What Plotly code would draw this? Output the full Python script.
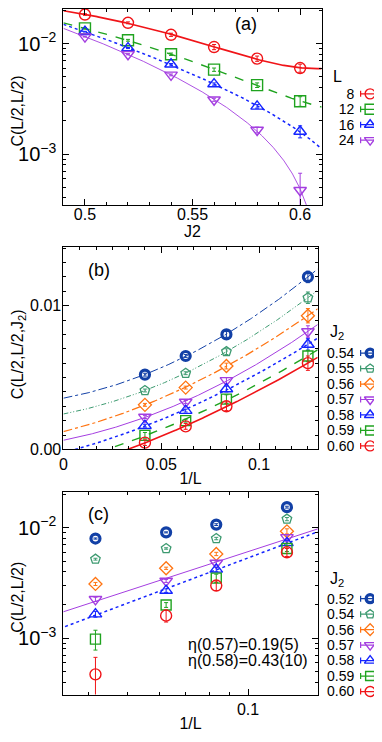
import numpy as np
import plotly.graph_objects as go

# C(L/2,L/2), one list per system size L
J2 = [0.50, 0.52, 0.54, 0.55, 0.56, 0.57, 0.58, 0.59, 0.60]
C_L8 = [0.0183, 0.0154, 0.0120, 0.01055, 0.0093, 0.0082, 0.0073, 0.0065, 0.0060]
C_L12 = [0.0137, 0.0107, 0.0080, 0.0068, 0.0058, 0.0048, 0.0042, 0.0035, 0.0030]
C_L16 = [0.0128, 0.0091, 0.0065, 0.0053, 0.0043, 0.0033, 0.0027, 0.0020, 0.0016]
C_L24 = [0.01155, 0.0080, 0.0052, 0.0041, 0.0031, 0.00225, 0.00165, 0.00098, 0.00047]
ERR_L8 = [0.0003, 0.0003, 0.0004, 0.0004, 0.0005, 0.0004, 0.0004, 0.0004, 0.0005]
ERR_L12 = [0.0002, 0.0002, 0.0002, 0.0002, 0.0002, 0.0002, 0.0002, 0.0003, 0.0003]
ERR_L16 = [0.0001, 0.0001, 0.0001, 0.0001, 0.0001, 0.0001, 0.0001, 0.0001, 0.0002]
ERR_L24 = [0.0001, 0.0001, 0.0001, 0.0001, 0.0001, 0.0001, 0.0001, 0.0002, 0.0002]
L_SIZES = [8, 12, 16, 24]

J2_A = [0.50, 0.52, 0.54, 0.56, 0.58, 0.60]          # panel (a)
J2_B = [0.54, 0.55, 0.56, 0.57, 0.58, 0.59, 0.60]    # panel (b)
J2_C = [0.52, 0.54, 0.56, 0.57, 0.58, 0.59, 0.60]    # panel (c)
J2_FIT_C = [0.57, 0.58]
ETA_TEXT = ["η(0.57)=0.19(5)", "η(0.58)=0.43(10)"]

C = {8: C_L8, 12: C_L12, 16: C_L16, 24: C_L24}
ERR = {8: ERR_L8, 12: ERR_L12, 16: ERR_L16, 24: ERR_L24}

RED, GREEN, BLUE, PURPLE = "#f01418", "#1fa31f", "#1424ff", "#a43ee0"
ORANGE, TEAL, NAVY = "#ff7412", "#3d9a70", "#1240a6"

style_L = {
    8: dict(color=RED, symbol="circle-open", dash="solid", w=1.7),
    12: dict(color=GREEN, symbol="square-open", dash="dash", w=1.4),
    16: dict(color=BLUE, symbol="triangle-up-open", dash="dot", w=1.5),
    24: dict(color=PURPLE, symbol="triangle-down-open", dash="solid", w=0.9),
}
# panels (b) and (c) use the same style sequence, in key order
style_seq = [
    dict(color=NAVY, symbol="circle-open", dash="dashdot", w=1.0, mw=3.2, size=9),
    dict(color=TEAL, symbol="pentagon-open", dash="5px,2px,1px,2px,1px,2px", w=1.0, mw=1.3, size=10),
    dict(color=ORANGE, symbol="diamond-open", dash="dashdot", w=1.2, mw=1.3, size=10),
    dict(color=PURPLE, symbol="triangle-down-open", dash="solid", w=1.0, mw=1.4, size=11),
    dict(color=BLUE, symbol="triangle-up-open", dash="dot", w=1.5, mw=1.4, size=11),
    dict(color=GREEN, symbol="square-open", dash="dash", w=1.4, mw=1.4, size=10),
    dict(color=RED, symbol="circle-open", dash="solid", w=1.6, mw=1.4, size=11),
]

FONT = "Liberation Sans, Arial, sans-serif"
fig = go.Figure()


def key_entry(label, s, xa, ya, mw=1.4, size=11):
    # key sample drawn gnuplot style: label on the left, errorbar sample on the right
    fig.add_trace(go.Scatter(x=[0], y=[label], mode="markers", showlegend=False, hoverinfo="skip",
                             marker=dict(symbol=s["symbol"], size=size - 1, color=s["color"],
                                         line=dict(width=mw, color=s["color"])),
                             error_x=dict(type="data", array=[0.8], color=s["color"], width=3,
                                          thickness=1.2),
                             xaxis=xa, yaxis=ya))


# ---- panel (a): C vs J2, log y
for L in L_SIZES:
    s = style_L[L]
    idx = [J2.index(j) for j in J2_A]
    y = [C[L][i] for i in idx]
    e = [ERR[L][i] for i in idx]
    coef = np.polyfit(J2_A, y, 3)
    xs = np.linspace(0.49, 0.61, 400)
    ys = np.polyval(coef, xs)
    ys = np.where(ys > 0, ys, np.nan)
    fig.add_trace(go.Scatter(x=xs, y=ys, mode="lines", showlegend=False, hoverinfo="skip",
                             line=dict(color=s["color"], dash=s["dash"], width=s["w"]),
                             xaxis="x", yaxis="y"))
    fig.add_trace(go.Scatter(x=J2_A, y=y, mode="markers", name=str(L), showlegend=False,
                             marker=dict(symbol=s["symbol"], size=11, color=s["color"],
                                         line=dict(width=1.4, color=s["color"])),
                             error_y=dict(type="data", array=e, color=s["color"], width=2, thickness=1),
                             xaxis="x", yaxis="y"))
    key_entry(str(L), s, "x4", "y4")

# ---- panel (b): C vs 1/L, linear y, quadratic extrapolation
inv_L = [1 / L for L in L_SIZES]
for k, j in enumerate(J2_B):
    s = style_seq[k]
    i = J2.index(j)
    y = [C[L][i] for L in L_SIZES]
    e = [ERR[L][i] for L in L_SIZES]
    coef = np.polyfit(inv_L, y, 2)
    xs = np.linspace(0, 0.13, 300)
    fig.add_trace(go.Scatter(x=xs, y=np.polyval(coef, xs), mode="lines", showlegend=False,
                             hoverinfo="skip", line=dict(color=s["color"], dash=s["dash"], width=s["w"]),
                             xaxis="x2", yaxis="y2"))
    fig.add_trace(go.Scatter(x=inv_L, y=y, mode="markers", name=f"{j:.2f}", showlegend=False,
                             marker=dict(symbol=s["symbol"], size=s["size"], color=s["color"],
                                         line=dict(width=s["mw"], color=s["color"])),
                             error_y=dict(type="data", array=e, color=s["color"], width=2, thickness=1),
                             xaxis="x2", yaxis="y2"))
    key_entry(f"{j:.2f}", s, "x5", "y5", s["mw"], s["size"])

# ---- panel (c): log-log, power-law fits for 0.57 and 0.58
for j in J2_FIT_C:
    s = style_seq[J2_C.index(j)]
    i = J2.index(j)
    y = [C[L][i] for L in L_SIZES]
    slope, icpt = np.polyfit(np.log10(inv_L), np.log10(y), 1)
    xs = np.logspace(-1.47, -0.81, 50)
    fig.add_trace(go.Scatter(x=xs, y=10 ** (icpt + slope * np.log10(xs)), mode="lines",
                             showlegend=False, hoverinfo="skip",
                             line=dict(color=s["color"], dash=s["dash"], width=s["w"]),
                             xaxis="x3", yaxis="y3"))
for k, j in enumerate(J2_C):
    s = style_seq[k]
    i = J2.index(j)
    y = [C[L][i] for L in L_SIZES]
    e = [ERR[L][i] for L in L_SIZES]
    fig.add_trace(go.Scatter(x=inv_L, y=y, mode="markers", name=f"{j:.2f}", showlegend=False,
                             marker=dict(symbol=s["symbol"], size=s["size"], color=s["color"],
                                         line=dict(width=s["mw"], color=s["color"])),
                             error_y=dict(type="data", array=e, color=s["color"], width=2, thickness=1),
                             xaxis="x3", yaxis="y3"))
    key_entry(f"{j:.2f}", s, "x6", "y6", s["mw"], s["size"])

# the page body keeps its default 8px margin, so lay out in window pixels minus 8
OFF = 8
W, H = 382 - OFF, 742 - OFF
px_x = lambda p: (p - OFF) / W
px_y = lambda p: 1 - (p - OFF) / H

axis_common = dict(showline=True, linecolor="black", linewidth=1, mirror="allticks",
                   ticks="inside", ticklen=6, tickcolor="black", showgrid=False, zeroline=False,
                   tickfont=dict(size=16, family=FONT, color="black"))
minor_common = dict(ticks="inside", ticklen=3, tickcolor="black", showgrid=False)
key_x = dict(domain=[px_x(358), px_x(382)], range=[-1, 1], visible=False, fixedrange=True)
key_y = dict(type="category", showline=False, ticks="", showgrid=False, zeroline=False,
             tickfont=dict(size=14, family=FONT, color="black"), fixedrange=True,
             tickmode="array", ticklabelstandoff=3)

key_a = [str(L) for L in L_SIZES]
key_b = [f"{j:.2f}" for j in J2_B]
key_c = [f"{j:.2f}" for j in J2_C]

fig.update_layout(
    width=W, height=H, margin=dict(l=0, r=0, t=0, b=0),
    paper_bgcolor="white", plot_bgcolor="white",
    font=dict(family=FONT, size=16, color="black"),
    showlegend=False,
    xaxis=dict(axis_common, domain=[px_x(60), px_x(321)], range=[0.49, 0.61], anchor="y",
               tickvals=[0.5, 0.55, 0.6], ticktext=["0.5", "0.55", "0.6"], ticklabelstandoff=-5,
               minor=dict(minor_common, dtick=0.01),
               title=dict(text="J2", standoff=0, font=dict(size=16))),
    yaxis=dict(axis_common, domain=[px_y(207), px_y(8)], type="log", range=[-3.464, -1.6875],
               anchor="x", dtick=1, exponentformat="power", ticklabelstandoff=3,
               minor=dict(minor_common, dtick="D1")),
    xaxis2=dict(axis_common, domain=[px_x(60), px_x(317)], range=[0, 0.13], anchor="y2",
                tickvals=[0, 0.05, 0.1], ticktext=["0", "0.05", "0.1"],
                minor=dict(minor_common, dtick=0.05 / 6),
                title=dict(text="1/L", standoff=1, font=dict(size=16))),
    yaxis2=dict(axis_common, domain=[px_y(454.5), px_y(249)], range=[0, 0.0141], anchor="x2",
                tickvals=[0, 0.01], ticktext=["0.00", "0.01"], ticklabelstandoff=-2,
                minor=dict(minor_common, dtick=0.001)),
    xaxis3=dict(axis_common, domain=[px_x(60), px_x(317)], type="log", range=[-1.460, -0.8264],
                anchor="y3", tickvals=[0.1], ticktext=["0.1"],
                minor=dict(minor_common, dtick="D1"),
                title=dict(text="1/L", standoff=1, font=dict(size=16))),
    yaxis3=dict(axis_common, domain=[px_y(703), px_y(498)], type="log", range=[-3.511, -1.678],
                anchor="x3", dtick=1, exponentformat="power", ticklabelstandoff=3,
                minor=dict(minor_common, dtick="D1")),
    xaxis4=dict(key_x, anchor="y4"),
    yaxis4=dict(key_y, anchor="x4", domain=[px_y(148.8), px_y(86.2)],
                categoryorder="array", categoryarray=key_a, tickvals=key_a,
                range=[len(key_a) - 0.5, -0.5]),
    xaxis5=dict(key_x, anchor="y5"),
    yaxis5=dict(key_y, anchor="x5", domain=[px_y(458.8), px_y(349)],
                categoryorder="array", categoryarray=key_b, tickvals=key_b,
                range=[len(key_b) - 0.5, -0.5]),
    xaxis6=dict(key_x, anchor="y6"),
    yaxis6=dict(key_y, anchor="x6", domain=[px_y(707.8), px_y(598)],
                categoryorder="array", categoryarray=key_c, tickvals=key_c,
                range=[len(key_c) - 0.5, -0.5]),
)


def note(txt, xp, yp, size, xanchor="center", angle=0):
    fig.add_annotation(text=txt, x=px_x(xp), y=px_y(yp), xref="paper", yref="paper",
                       xanchor=xanchor, yanchor="middle", showarrow=False, textangle=angle,
                       font=dict(size=size, family=FONT, color="black"))


# y axis titles sit a little below the panel centres, as in the original
note("C(L/2,L/2)", 14, 111, 16, angle=-90)
note("C(L/2,L/2,J<sub>2</sub>)", 14, 358, 16, angle=-90)
note("C(L/2,L/2)", 14, 604, 16, angle=-90)
for txt, xp, yp in [("(a)", 245, 23), ("(b)", 96, 273), ("(c)", 95, 520)]:
    note(txt, xp, yp, 18)
for txt, xp, yp in [("L", 337, 76), ("J<sub>2</sub>", 337, 336), ("J<sub>2</sub>", 337, 586)]:
    note(txt, xp, yp, 16)
for k, txt in enumerate(ETA_TEXT):
    note(txt, 184, 652 + 17 * k, 16, xanchor="left")

fig.write_html("out.html")
